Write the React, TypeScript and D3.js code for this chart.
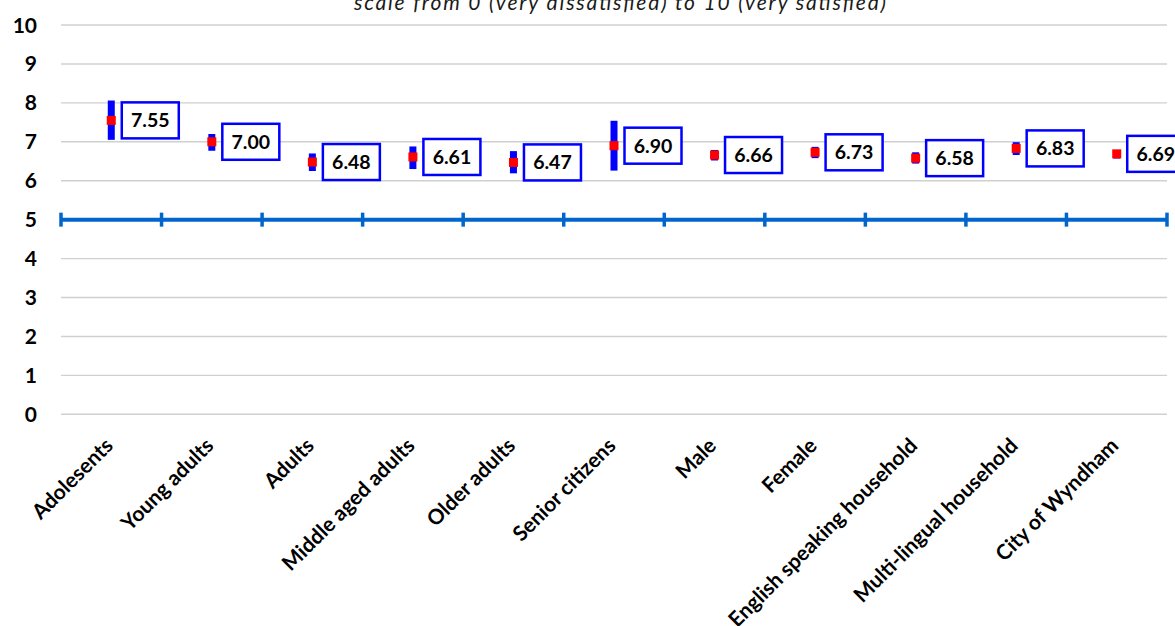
import React from "react";
import * as d3 from "d3";

const categories = [
  "Adolesents",
  "Young adults",
  "Adults",
  "Middle aged adults",
  "Older adults",
  "Senior citizens",
  "Male",
  "Female",
  "English speaking household",
  "Multi-lingual household",
  "City of Wyndham",
];
const means = [7.55, 7.0, 6.48, 6.61, 6.47, 6.9, 6.66, 6.73, 6.58, 6.83, 6.69];
const lower = [7.05, 6.77, 6.25, 6.3, 6.19, 6.26, 6.52, 6.58, 6.44, 6.66, 6.57];
const upper = [8.06, 7.2, 6.7, 6.88, 6.76, 7.54, 6.79, 6.87, 6.73, 6.99, 6.79];
const yTicks = [0, 1, 2, 3, 4, 5, 6, 7, 8, 9, 10];
const referenceValue = 5;
const title = "scale from 0 (very dissatisfied) to 10 (very satisfied)";

const W = 1175;
const H = 626;
const FONT = "Lato, 'Open Sans', sans-serif";

export default function App() {
  const x = d3.scaleBand<string>().domain(categories).range([61, 1167]).padding(0);
  const y = d3.scaleLinear().domain([0, 10]).range([414.3, 25]);
  const bw = x.bandwidth();
  const cx = (c: string) => (x(c) as number) + bw / 2;
  const boundaries = d3.range(categories.length + 1).map((i) => 61 + i * bw);

  return (
    <svg
      width={W}
      height={H}
      style={{ position: "absolute", left: 0, top: 0, background: "#fff" }}
      fontFamily={FONT}
    >
      <rect width={W} height={H} fill="#fff" />
      <text
        x={620}
        y={10}
        textAnchor="middle"
        fontStyle="italic"
        fontSize={21}
        textLength={532}
        lengthAdjust="spacing"
        fill="#1a1a1a"
      >
        {title}
      </text>
      {/* gridlines */}
      {yTicks.map((t) => (
        <line
          key={"g" + t}
          x1={61}
          x2={1167}
          y1={y(t)}
          y2={y(t)}
          stroke="#d0d0d0"
          strokeWidth={1.4}
        />
      ))}
      {/* y tick labels */}
      {yTicks.map((t) => (
        <text
          key={"yl" + t}
          x={37}
          y={y(t)}
          dy="0.36em"
          textAnchor="end"
          fontWeight="bold"
          fontSize={21}
          fill="#000"
        >
          {t}
        </text>
      ))}
      {/* reference line at 5 */}
      <line
        x1={61}
        x2={1167}
        y1={y(referenceValue)}
        y2={y(referenceValue)}
        stroke="#0066cc"
        strokeWidth={4}
      />
      {boundaries.map((b, i) => (
        <line
          key={"t" + i}
          x1={b}
          x2={b}
          y1={y(referenceValue) - 7}
          y2={y(referenceValue) + 7}
          stroke="#0066cc"
          strokeWidth={3.5}
        />
      ))}
      {/* error bars and means */}
      {categories.map((c, i) => (
        <g key={"m" + i}>
          <rect
            x={cx(c) - 3.5}
            width={7}
            y={y(upper[i])}
            height={y(lower[i]) - y(upper[i])}
            fill="#0000ff"
          />
          <rect
            x={cx(c) - 4.5}
            y={y(means[i]) - 4.5}
            width={9}
            height={9}
            fill="#ff0000"
          />
          <rect
            x={cx(c) + 10.5}
            y={y(means[i]) - 18}
            width={57}
            height={36}
            fill="#fff"
            stroke="#0000ff"
            strokeWidth={2.5}
          />
          <text
            x={cx(c) + 39}
            y={y(means[i])}
            dy="0.36em"
            textAnchor="middle"
            fontWeight="bold"
            fontSize={19.5}
            fill="#000"
          >
            {means[i].toFixed(2)}
          </text>
        </g>
      ))}
      {/* x labels */}
      {categories.map((c, i) => (
        <text
          key={"xl" + i}
          transform={`translate(${cx(c) + 3},${447}) rotate(-45)`}
          textAnchor="end"
          fontWeight="bold"
          fontSize={21}
          fill="#000"
        >
          {c}
        </text>
      ))}
    </svg>
  );
}
